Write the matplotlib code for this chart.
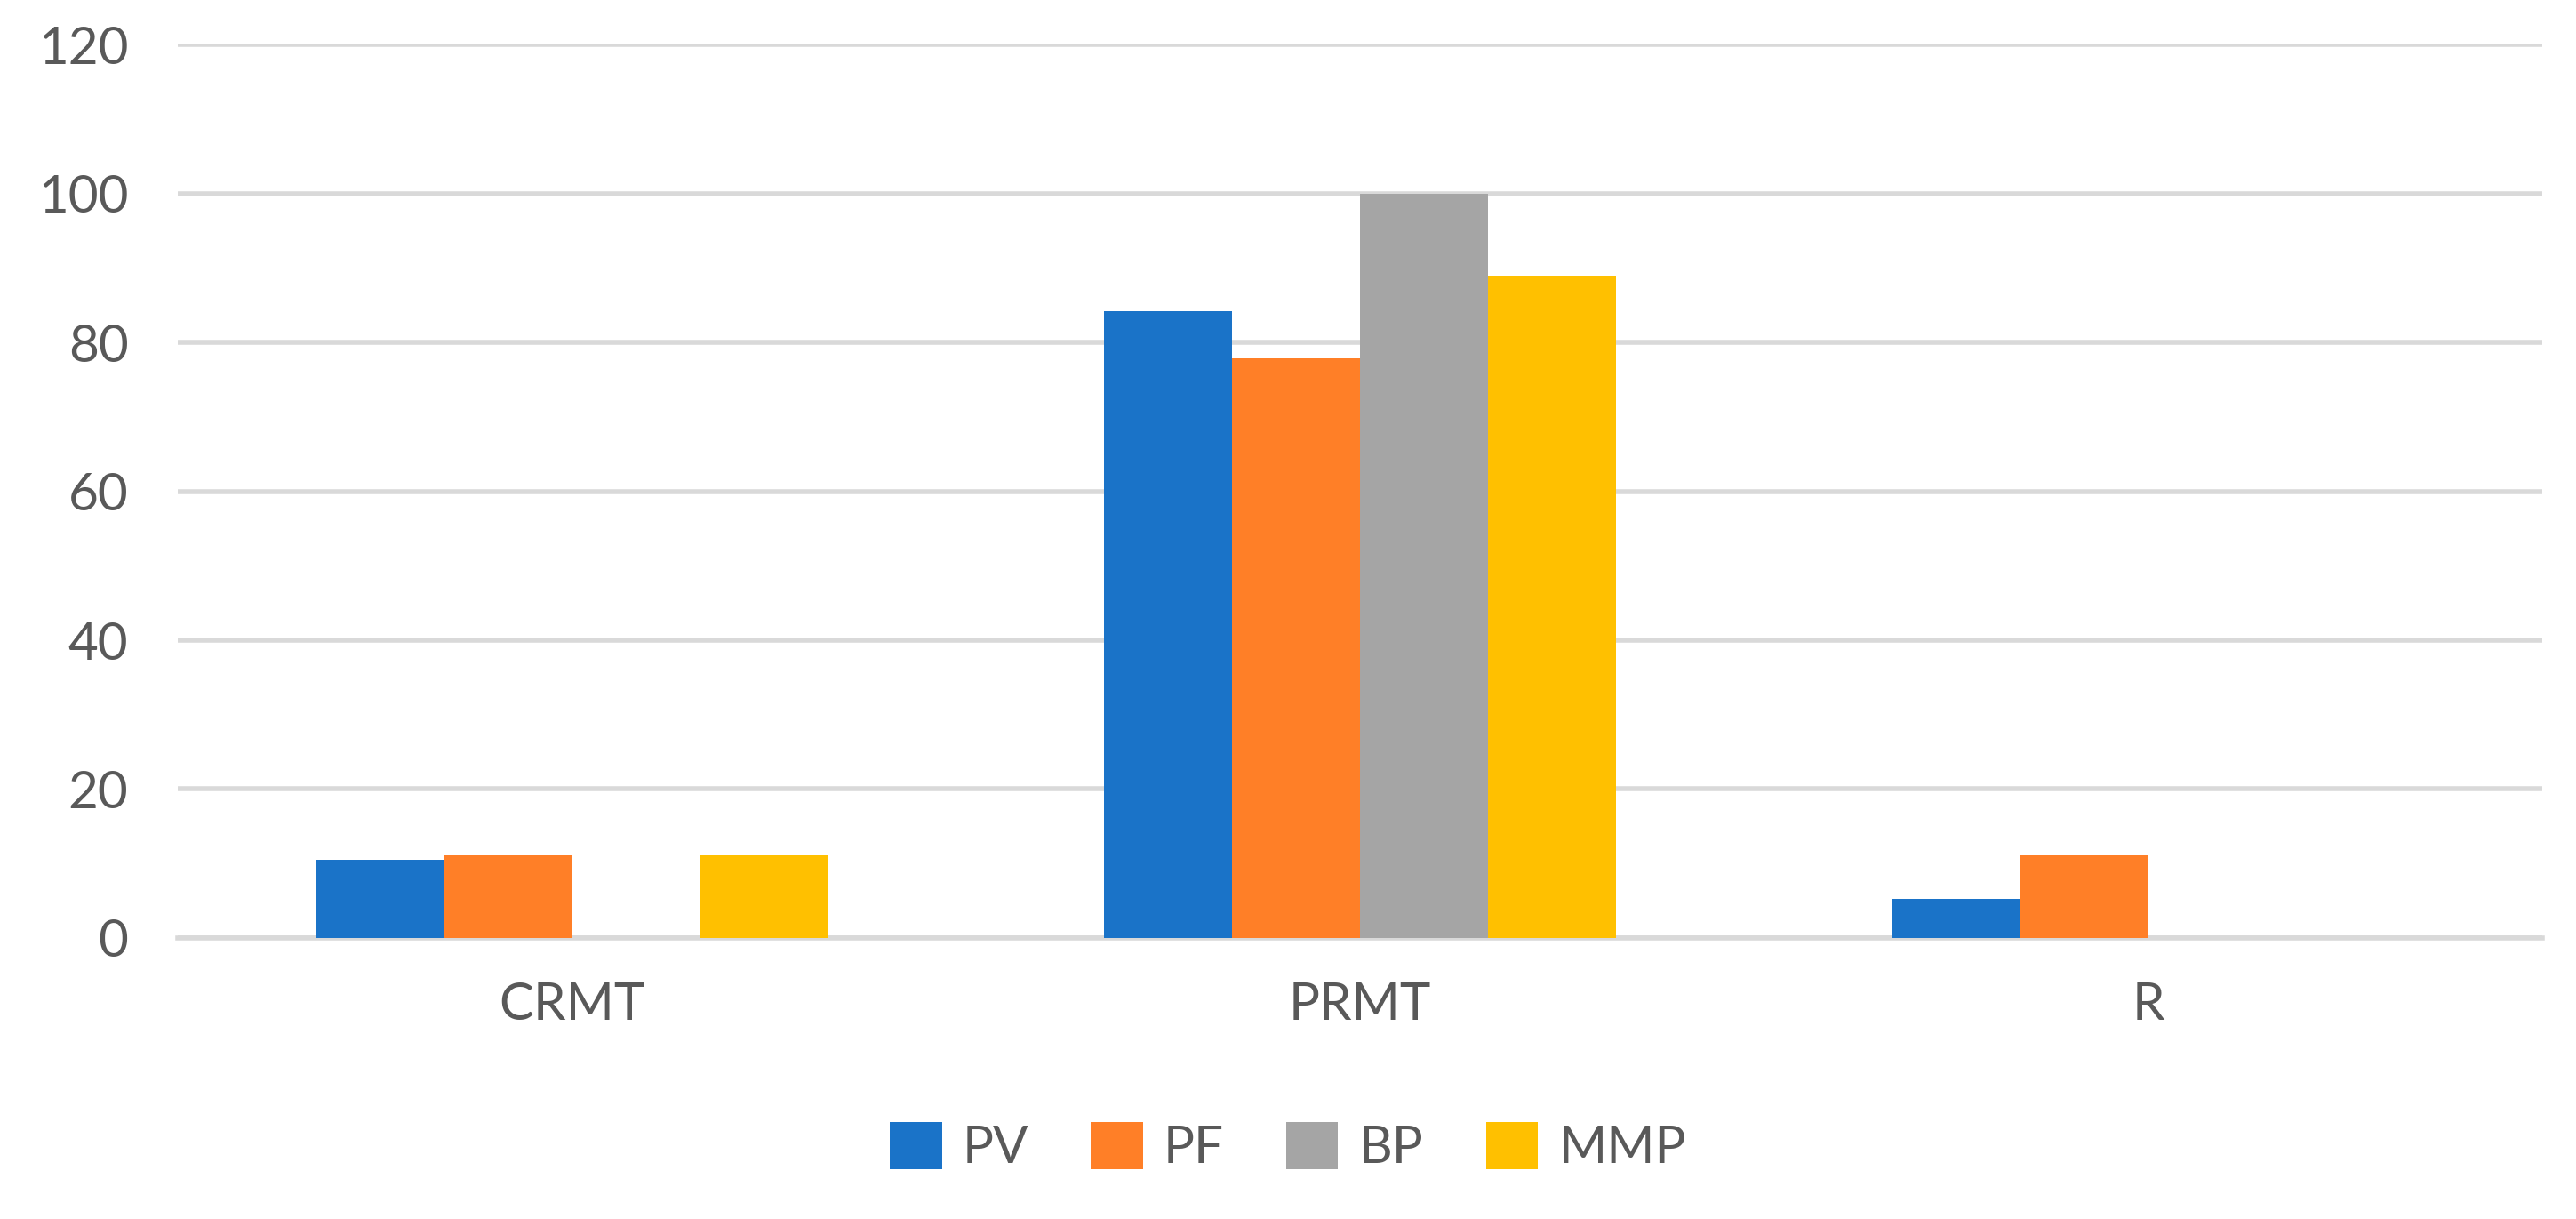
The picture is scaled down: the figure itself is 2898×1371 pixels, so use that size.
import numpy as np
import matplotlib.pyplot as plt

# ─── Data ─────────────────────────────────────────────────────────────────────

categories = ["CRMT", "PRMT", "R"]
series     = ["PV", "PF", "BP", "MMP"]
pv  = [10.5, 84.2, 5.3]
pf  = [11.1, 77.8, 11.1]
bp  = [0, 100, 0]
mmp = [11.1, 88.9, 0]
colors = ["#1a73c8", "#ff7f27", "#a5a5a5", "#ffc000"]

# ─── Plot ─────────────────────────────────────────────────────────────────────

plt.rcParams['font.family'] = ['Lato', 'DejaVu Sans']
fig = plt.figure(figsize=(28.98, 13.71), dpi=100)
ax = fig.add_axes([0.069, 0.2305, 0.918, 0.733])

x = np.arange(len(categories)) + 0.5
w = 0.1625
for i, (vals, name) in enumerate(zip([pv, pf, bp, mmp], series)):
    ax.bar(x + (i - 1.5) * w, vals, width=w, color=colors[i], label=name, zorder=3)

ax.set_xlim(0, 3)
ax.set_ylim(0, 120)
ax.set_yticks(range(0, 121, 20))
ax.set_xticks(x)
ax.set_xticklabels(categories)
ax.yaxis.grid(True, color="#d9d9d9", linewidth=4, zorder=0)
for s in ["top", "right", "left"]:
    ax.spines[s].set_visible(False)
ax.spines["bottom"].set_color("#d9d9d9")
ax.spines["bottom"].set_linewidth(4)
ax.tick_params(axis="both", length=0, labelsize=42, labelcolor="#595959", pad=35)
ax.tick_params(axis="y", pad=40)

fig.legend(loc="lower center", ncol=4, frameon=False, fontsize=42,
           bbox_to_anchor=(0.5, 0.0), handlelength=1.0, handleheight=1.0,
           columnspacing=1.2, handletextpad=0.4, labelcolor="#595959")

fig.savefig("out.png", dpi=100)
